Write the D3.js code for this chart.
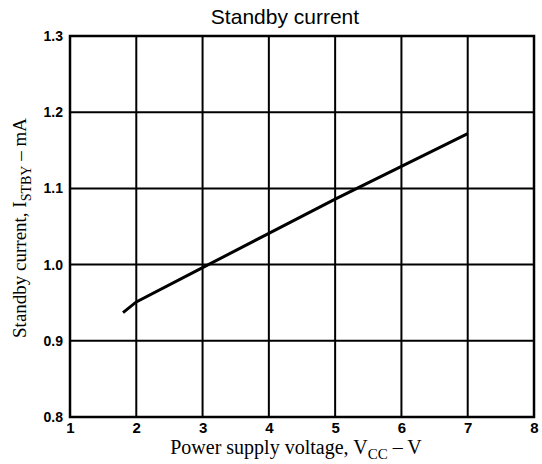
<!DOCTYPE html>
<html><head><meta charset="utf-8">
<script src="https://cdn.jsdelivr.net/npm/d3@7/dist/d3.min.js"></script>
<style>body{margin:0;background:#fff}svg{display:block}</style>
</head><body>
<svg id="c" width="542" height="464"></svg>
<script>
const xTicks = [1, 2, 3, 4, 5, 6, 7, 8];
const yTicks = [0.8, 0.9, 1.0, 1.1, 1.2, 1.3];
const yTickLabels = ["0.8", "0.9", "1.0", "1.1", "1.2", "1.3"];
const voltage = [1.8, 2.0, 3.0, 4.0, 5.0, 6.0, 7.0];
const current = [0.937, 0.951, 0.996, 1.041, 1.086, 1.129, 1.172];

const svg = d3.select("#c");
const L = 70, R = 534, T = 36, B = 417;
const x = d3.scaleLinear().domain([1, 8]).range([L, R]);
const y = d3.scaleLinear().domain([0.8, 1.3]).range([B, T]);

// grid
svg.append("g").selectAll("line").data(xTicks).join("line")
  .attr("x1", d => x(d)).attr("x2", d => x(d)).attr("y1", T).attr("y2", B)
  .attr("stroke", "#000").attr("stroke-width", 2);
svg.append("g").selectAll("line").data(yTicks).join("line")
  .attr("x1", L).attr("x2", R).attr("y1", d => y(d)).attr("y2", d => y(d))
  .attr("stroke", "#000").attr("stroke-width", 2);
svg.append("rect").attr("x", L).attr("y", T).attr("width", R - L).attr("height", B - T)
  .attr("fill", "none").attr("stroke", "#000").attr("stroke-width", 2.5);

// axes labels
const xAxis = d3.axisBottom(x).tickValues(xTicks).tickSize(0).tickPadding(5).tickFormat(d3.format("d"));
const gx = svg.append("g").attr("transform", `translate(0,${B})`).call(xAxis);
gx.select(".domain").remove();
gx.selectAll("text").attr("font-family", "Liberation Sans, Arial, sans-serif")
  .attr("font-weight", "bold").attr("font-size", 15).attr("fill", "#000");

const yAxis = d3.axisLeft(y).tickValues(yTicks).tickSize(0).tickPadding(7)
  .tickFormat((d, i) => yTickLabels[i]);
const gy = svg.append("g").attr("transform", `translate(${L},0)`).call(yAxis);
gy.select(".domain").remove();
gy.selectAll("text").attr("font-family", "Liberation Sans, Arial, sans-serif")
  .attr("font-weight", "bold").attr("font-size", 14).attr("fill", "#000");

// data line
svg.append("path").datum(voltage.map((v, i) => [v, current[i]]))
  .attr("d", d3.line().x(d => x(d[0])).y(d => y(d[1])))
  .attr("fill", "none").attr("stroke", "#000").attr("stroke-width", 3);

// title
svg.append("text").attr("x", 285).attr("y", 24).attr("text-anchor", "middle")
  .attr("font-family", "Liberation Sans, Arial, sans-serif").attr("font-size", 21)
  .text("Standby current");

// x title
const xt = svg.append("text").attr("x", 296).attr("y", 454).attr("text-anchor", "middle")
  .attr("font-family", "Liberation Serif, Times New Roman, serif").attr("font-size", 20);
xt.append("tspan").text("Power supply voltage, V");
xt.append("tspan").attr("font-size", 15).attr("dy", 5).text("CC");
xt.append("tspan").attr("dy", -5).text(" \u2013 V");

// y title
const yt = svg.append("text").attr("transform", "translate(26,228) rotate(-90)")
  .attr("text-anchor", "middle")
  .attr("font-family", "Liberation Serif, Times New Roman, serif").attr("font-size", 19);
yt.append("tspan").text("Standby current, I");
yt.append("tspan").attr("font-size", 14).attr("dy", 5).text("STBY");
yt.append("tspan").attr("dy", -5).text(" \u2013 mA");
</script>
</body></html>
